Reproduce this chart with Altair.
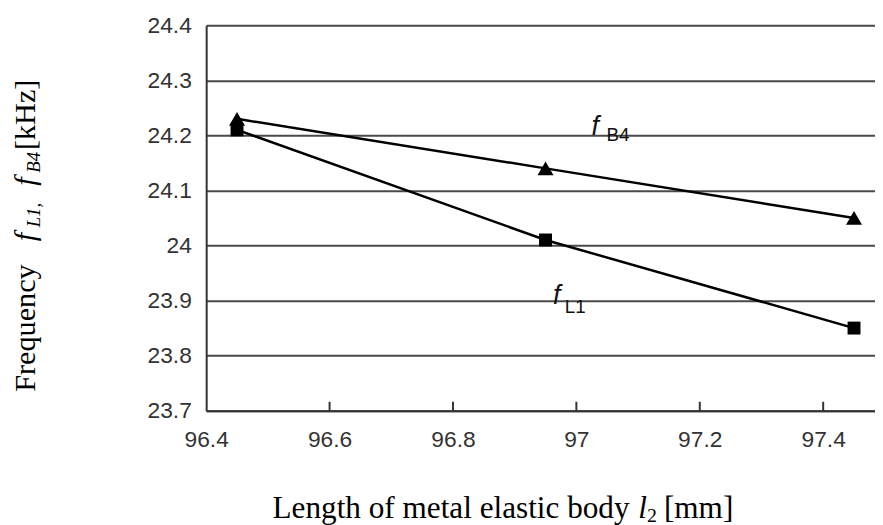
import altair as alt
import pandas as pd

# data
lengths = [96.45, 96.95, 97.45]
f_B4 = [24.23, 24.14, 24.05]
f_L1 = [24.21, 24.01, 23.85]
x_ticks = [96.4, 96.6, 96.8, 97.0, 97.2, 97.4]
y_ticks = [23.7, 23.8, 23.9, 24.0, 24.1, 24.2, 24.3, 24.4]

rows = []
for x, y in zip(lengths, f_B4):
    rows.append({"l2": x, "f": y, "series": "B4"})
for x, y in zip(lengths, f_L1):
    rows.append({"l2": x, "f": y, "series": "L1"})
df = pd.DataFrame(rows)
ticks_df = pd.DataFrame({"t": x_ticks[1:]})

W, H = 675, 389
xs = alt.Scale(domain=[96.4, 97.484], nice=False, zero=False)
ys = alt.Scale(domain=[23.7, 24.4], nice=False, zero=False)

xenc = alt.X("l2:Q", scale=xs, axis=alt.Axis(
    values=x_ticks, format=".1~f", title=None, grid=False, ticks=False, tickSize=0,
    labelPadding=18, labelFontSize=23, labelColor="#333333", labelFont="Liberation Sans",
    domainColor="#333333", domainWidth=2, labelFlush=False))
yenc = alt.Y("f:Q", scale=ys, axis=alt.Axis(
    values=y_ticks, format=".1~f", title=None, grid=True, gridColor="#4a4a4a", gridWidth=2,
    ticks=False, tickSize=0, labelPadding=15, labelFontSize=23, labelColor="#333333",
    labelFont="Liberation Sans", domainColor="#333333", domainWidth=2))

base = alt.Chart(df)
lines = base.mark_line(color="black", strokeWidth=2.5).encode(x=xenc, y=yenc, detail="series:N")
points = base.mark_point(filled=True, color="black", opacity=1).encode(
    x="l2:Q", y="f:Q",
    shape=alt.Shape("series:N", scale=alt.Scale(domain=["B4", "L1"], range=["triangle-up", "square"]), legend=None),
    size=alt.Size("series:N", scale=alt.Scale(domain=["B4", "L1"], range=[260, 170]), legend=None))

xt = alt.Chart(ticks_df).mark_rule(color="#333333", strokeWidth=2).encode(
    x=alt.X("t:Q", scale=xs), y=alt.value(H), y2=alt.value(H - 9))

def txt(s, x, y, size, font="Liberation Sans", style="normal", angle=0, align="left", baseline="alphabetic", color="black"):
    return alt.Chart(pd.DataFrame({"s": [s]})).mark_text(
        fontSize=size, font=font, fontStyle=style, angle=angle, align=align, baseline=baseline, color=color
    ).encode(text="s:N", x=alt.value(x), y=alt.value(y))

serif = "Liberation Serif"
ann = [
    txt("f", 389, 111, 27, style="italic", color="#111"),
    txt("B4", 404, 117, 19, color="#111"),
    txt("f", 350, 281, 27, style="italic", color="#111"),
    txt("L1", 362, 290, 19, color="#111"),
    # x title
    txt("Length of metal elastic body", 67, 497, 31.5, font=serif),
    txt("l", 436, 497, 31.5, font=serif, style="italic"),
    txt("2", 445, 501, 20, font=serif),
    txt("[mm]", 462, 497, 31.5, font=serif),
    # y title
    txt("Frequency", -173, 370, 30.5, font=serif, angle=270),
    txt("f", -173, 218, 30.5, font=serif, style="italic", angle=270),
    txt("L1,", -168, 204, 19, font=serif, style="italic", angle=270),
    txt("f", -173, 162, 30.5, font=serif, style="italic", angle=270),
    txt("B4", -168, 149, 19, font=serif, style="italic", angle=270),
    txt("[kHz]", -173, 126, 30.5, font=serif, angle=270),
]

chart = alt.layer(lines, xt, points, *ann).properties(
    width=W, height=H,
    autosize=alt.AutoSizeParams(type="none"),
    padding={"left": 200, "top": 15, "right": 0, "bottom": 113},
).configure_view(stroke=None).configure(background="white")

chart.save("out.html", embed_options={"renderer": "svg", "actions": False})
